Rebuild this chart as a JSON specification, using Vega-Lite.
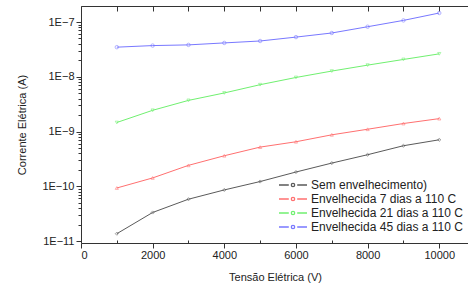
{
  "$schema": "https://vega.github.io/schema/vega-lite/v6.json",
  "width": 388,
  "height": 237,
  "autosize": {"type": "none"},
  "padding": {"left": 81, "top": 6, "right": 0, "bottom": 48},
  "background": "white",
  "config": {
    "font": "Liberation Sans",
    "view": {"stroke": "#333", "strokeWidth": 1},
    "axis": {"domainColor": "#333", "tickColor": "#333", "labelColor": "#222", "titleColor": "#222", "labelFontSize": 11, "titleFontSize": 11, "titleFontWeight": "normal", "grid": false}
  },
  "data": {"values": [
    {"v": 1000, "i": 1.36e-11, "s": "Sem envelhecimento)"},
    {"v": 2000, "i": 3.32e-11, "s": "Sem envelhecimento)"},
    {"v": 3000, "i": 5.8e-11, "s": "Sem envelhecimento)"},
    {"v": 4000, "i": 8.57e-11, "s": "Sem envelhecimento)"},
    {"v": 5000, "i": 1.22e-10, "s": "Sem envelhecimento)"},
    {"v": 6000, "i": 1.82e-10, "s": "Sem envelhecimento)"},
    {"v": 7000, "i": 2.65e-10, "s": "Sem envelhecimento)"},
    {"v": 8000, "i": 3.77e-10, "s": "Sem envelhecimento)"},
    {"v": 9000, "i": 5.5e-10, "s": "Sem envelhecimento)"},
    {"v": 10000, "i": 7.06e-10, "s": "Sem envelhecimento)"},
    {"v": 1000, "i": 9.3e-11, "s": "Envelhecida 7 dias a 110 C"},
    {"v": 2000, "i": 1.42e-10, "s": "Envelhecida 7 dias a 110 C"},
    {"v": 3000, "i": 2.41e-10, "s": "Envelhecida 7 dias a 110 C"},
    {"v": 4000, "i": 3.61e-10, "s": "Envelhecida 7 dias a 110 C"},
    {"v": 5000, "i": 5.19e-10, "s": "Envelhecida 7 dias a 110 C"},
    {"v": 6000, "i": 6.5e-10, "s": "Envelhecida 7 dias a 110 C"},
    {"v": 7000, "i": 8.7e-10, "s": "Envelhecida 7 dias a 110 C"},
    {"v": 8000, "i": 1.1e-9, "s": "Envelhecida 7 dias a 110 C"},
    {"v": 9000, "i": 1.4e-9, "s": "Envelhecida 7 dias a 110 C"},
    {"v": 10000, "i": 1.72e-9, "s": "Envelhecida 7 dias a 110 C"},
    {"v": 1000, "i": 1.46e-9, "s": "Envelhecida 21 dias a 110 C"},
    {"v": 2000, "i": 2.44e-9, "s": "Envelhecida 21 dias a 110 C"},
    {"v": 3000, "i": 3.7e-9, "s": "Envelhecida 21 dias a 110 C"},
    {"v": 4000, "i": 5.06e-9, "s": "Envelhecida 21 dias a 110 C"},
    {"v": 5000, "i": 7.16e-9, "s": "Envelhecida 21 dias a 110 C"},
    {"v": 6000, "i": 9.7e-9, "s": "Envelhecida 21 dias a 110 C"},
    {"v": 7000, "i": 1.27e-8, "s": "Envelhecida 21 dias a 110 C"},
    {"v": 8000, "i": 1.63e-8, "s": "Envelhecida 21 dias a 110 C"},
    {"v": 9000, "i": 2.07e-8, "s": "Envelhecida 21 dias a 110 C"},
    {"v": 10000, "i": 2.62e-8, "s": "Envelhecida 21 dias a 110 C"},
    {"v": 1000, "i": 3.47e-8, "s": "Envelhecida 45 dias a 110 C"},
    {"v": 2000, "i": 3.71e-8, "s": "Envelhecida 45 dias a 110 C"},
    {"v": 3000, "i": 3.82e-8, "s": "Envelhecida 45 dias a 110 C"},
    {"v": 4000, "i": 4.15e-8, "s": "Envelhecida 45 dias a 110 C"},
    {"v": 5000, "i": 4.5e-8, "s": "Envelhecida 45 dias a 110 C"},
    {"v": 6000, "i": 5.3e-8, "s": "Envelhecida 45 dias a 110 C"},
    {"v": 7000, "i": 6.3e-8, "s": "Envelhecida 45 dias a 110 C"},
    {"v": 8000, "i": 8.2e-8, "s": "Envelhecida 45 dias a 110 C"},
    {"v": 9000, "i": 1.07e-7, "s": "Envelhecida 45 dias a 110 C"},
    {"v": 10000, "i": 1.46e-7, "s": "Envelhecida 45 dias a 110 C"}
  ]},
  "resolve": {"axis": {"x": "independent"}},
  "layer": [
    {
      "mark": {"type": "line", "strokeWidth": 1, "clip": true},
      "encoding": {
        "x": {"field": "v", "type": "quantitative", "scale": {"domain": [0, 10830], "nice": false, "zero": false},
          "axis": {"title": "Tensão Elétrica (V)", "values": [0,1000,2000,3000,4000,5000,6000,7000,8000,9000,10000], "labelExpr": "datum.value % 2000 == 0 ? datum.label : ''", "format": "d", "tickSize": {"condition": {"test": "datum.value % 2000 == 0", "value": 5}, "value": -3}, "labelPadding": 1, "titlePadding": 11, "domain": false}},
        "y": {"field": "i", "type": "quantitative", "scale": {"type": "log", "domain": [9.2e-12, 1.96e-7], "nice": false},
          "axis": {"title": "Corrente Elétrica (A)", "values": [1e-11,2e-11,3e-11,4e-11,5e-11,6e-11,7e-11,8e-11,9e-11,1e-10,2e-10,3e-10,4e-10,5e-10,6e-10,7e-10,8e-10,9e-10,1e-9,2e-9,3e-9,4e-9,5e-9,6e-9,7e-9,8e-9,9e-9,1e-8,2e-8,3e-8,4e-8,5e-8,6e-8,7e-8,8e-8,9e-8,1e-7],
            "labelExpr": "abs(log(datum.value)/LN10 - round(log(datum.value)/LN10)) < 0.001 ? '1E' + format(round(log(datum.value)/LN10), 'd') : ''",
            "tickSize": {"condition": {"test": "abs(log(datum.value)/LN10 - round(log(datum.value)/LN10)) < 0.001", "value": 5}, "value": 3},
            "labelPadding": 2, "titlePadding": 14, "domain": false}},
        "color": {"field": "s", "type": "nominal",
          "scale": {"domain": ["Sem envelhecimento)", "Envelhecida 7 dias a 110 C", "Envelhecida 21 dias a 110 C", "Envelhecida 45 dias a 110 C"], "range": ["#5a5a5a", "#ff7070", "#70f070", "#7878ff"]},
          "legend": {"title": null, "orient": "none", "legendX": 204, "legendY": 171, "labelFontSize": 12, "labelColor": "#222", "symbolType": "M-2,0H-0.6M0.6,0H2M0.24,0A0.24,0.24 0 1,1 -0.24,0A0.24,0.24 0 1,1 0.24,0", "symbolSize": 196, "symbolStrokeWidth": 1.3, "labelOffset": 10, "rowPadding": 0}}
      }
    },
    {
      "transform": [{"filter": "datum.s == 'Sem envelhecimento)'"}],
      "mark": {"type": "point", "shape": "diamond", "size": 10, "filled": false, "strokeWidth": 0.8, "color": "#5a5a5a", "clip": true},
      "encoding": {
        "x": {"field": "v", "type": "quantitative", "axis": null},
        "y": {"field": "i", "type": "quantitative"}
      }
    },
    {
      "transform": [{"filter": "datum.s == 'Envelhecida 7 dias a 110 C'"}],
      "mark": {"type": "point", "shape": "triangle-up", "size": 10, "filled": false, "strokeWidth": 0.8, "color": "#ff7070", "clip": true},
      "encoding": {
        "x": {"field": "v", "type": "quantitative", "axis": null},
        "y": {"field": "i", "type": "quantitative"}
      }
    },
    {
      "transform": [{"filter": "datum.s == 'Envelhecida 21 dias a 110 C'"}],
      "mark": {"type": "point", "shape": "triangle-down", "size": 10, "filled": false, "strokeWidth": 0.8, "color": "#70f070", "clip": true},
      "encoding": {
        "x": {"field": "v", "type": "quantitative", "axis": null},
        "y": {"field": "i", "type": "quantitative"}
      }
    },
    {
      "transform": [{"filter": "datum.s == 'Envelhecida 45 dias a 110 C'"}],
      "mark": {"type": "point", "shape": "circle", "size": 12, "filled": false, "strokeWidth": 0.8, "color": "#7878ff", "clip": true},
      "encoding": {
        "x": {"field": "v", "type": "quantitative", "axis": null},
        "y": {"field": "i", "type": "quantitative"}
      }
    },
    {
      "mark": {"type": "point", "opacity": 0},
      "encoding": {
        "x": {"field": "v", "type": "quantitative", "axis": {"orient": "top", "title": null, "labels": false, "values": [0,1000,2000,3000,4000,5000,6000,7000,8000,9000,10000], "tickSize": -5, "domain": false}},
        "y": {"field": "i", "type": "quantitative"}
      }
    }
  ]
}
